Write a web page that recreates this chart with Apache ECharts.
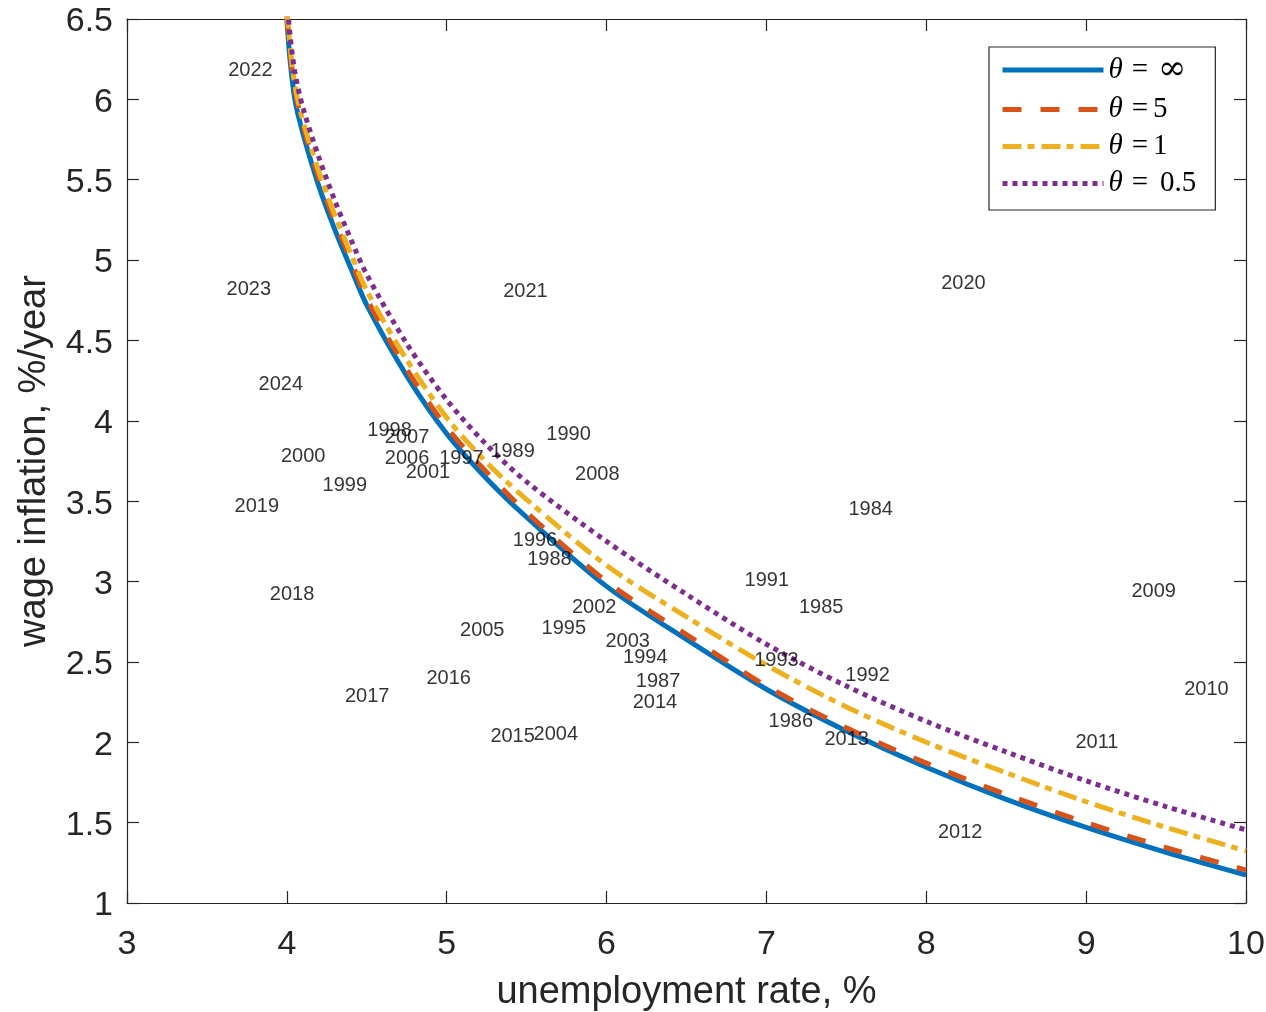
<!DOCTYPE html>
<html>
<head>
<meta charset="utf-8">
<script src="https://cdn.jsdelivr.net/npm/echarts@6/dist/echarts.min.js"></script>
<style>
  html, body { margin: 0; padding: 0; background: #fff; }
  #chart { width: 1266px; height: 1012px; }
</style>
</head>
<body>
<div id="chart"></div>
<script>
// curve grid (unemployment rate, %)
const curveU = [4.0, 4.02, 4.05, 4.1, 4.2, 4.3, 4.4, 4.5, 4.75, 5.0, 5.25, 5.5, 6.0, 6.5, 7.0, 7.5, 8.0, 8.5, 9.0, 9.5, 10.0];
// wage inflation for each theta
const thetaInf = [6.5, 6.245, 6.0, 5.79, 5.46, 5.19, 4.95, 4.72, 4.28, 3.92, 3.64, 3.40, 2.97, 2.64, 2.33, 2.07, 1.845, 1.645, 1.47, 1.315, 1.174];
const theta5   = [6.53, 6.30, 6.06, 5.84, 5.51, 5.24, 5.00, 4.76, 4.32, 3.96, 3.68, 3.43, 3.00, 2.67, 2.35, 2.09, 1.87, 1.675, 1.50, 1.345, 1.205];
const theta1   = [6.56, 6.33, 6.09, 5.87, 5.55, 5.28, 5.04, 4.81, 4.38, 4.02, 3.74, 3.51, 3.10, 2.78, 2.48, 2.22, 2.00, 1.81, 1.63, 1.47, 1.324];
const theta05  = [6.62, 6.40, 6.17, 5.95, 5.64, 5.37, 5.13, 4.91, 4.48, 4.13, 3.85, 3.62, 3.25, 2.92, 2.61, 2.35, 2.13, 1.94, 1.76, 1.60, 1.455];
const seriesNames = ['θ = ∞', 'θ =5', 'θ =1', 'θ = 0.5'];

// yearly observations
const years = ['2022', '2023', '2024', '2000', '1999', '2019', '2018', '2017', '2016', '2005',
  '2015', '2004', '1998', '2007', '2006', '2001', '1997', '1989', '1990', '2008',
  '2021', '2020', '1984', '1996', '1988', '2002', '1995', '2003', '1994', '1987',
  '2014', '1991', '1985', '1993', '1992', '1986', '2013', '2009', '2010', '2011', '2012'];
const yearU = [3.63, 3.62, 3.82, 3.96, 4.22, 3.67, 3.89, 4.36, 4.87, 5.08,
  5.27, 5.54, 4.50, 4.61, 4.61, 4.74, 4.95, 5.27, 5.62, 5.80,
  5.35, 8.09, 7.51, 5.41, 5.50, 5.78, 5.59, 5.99, 6.10, 6.18,
  6.16, 6.86, 7.20, 6.92, 7.49, 7.01, 7.36, 9.28, 9.61, 8.93, 8.07];
const yearW = [6.19, 4.83, 4.24, 3.79, 3.61, 3.48, 2.93, 2.30, 2.41, 2.71,
  2.05, 2.06, 3.95, 3.91, 3.78, 3.69, 3.78, 3.82, 3.93, 3.68,
  4.82, 4.87, 3.46, 3.27, 3.15, 2.85, 2.72, 2.64, 2.54, 2.39,
  2.26, 3.02, 2.85, 2.52, 2.43, 2.14, 2.03, 2.95, 2.34, 2.01, 1.45];

const sans = "'Liberation Sans', Arial, Helvetica, sans-serif";
const serif = "'Liberation Serif', 'DejaVu Serif', serif";
const axisColor = '#262626';

function pairs(xs, ys) {
  return xs.map((x, i) => [x, ys[i]]);
}

const chart = echarts.init(document.getElementById('chart'), null, { renderer: 'canvas' });

const mirrorAxis = {
  type: 'value',
  axisLine: { show: true, onZero: false, lineStyle: { color: axisColor, width: 1.2 } },
  axisTick: { show: true, inside: true, length: 12, lineStyle: { color: axisColor, width: 1.2 } },
  axisLabel: { show: false },
  splitLine: { show: false }
};

const option = {
  animation: false,
  backgroundColor: '#fff',
  grid: { left: 127, top: 19, right: 20, bottom: 109, containLabel: false, outerBoundsMode: 'none' },
  xAxis: [
    {
      type: 'value', min: 3, max: 10, interval: 1, position: 'bottom',
      name: 'unemployment rate, %', nameLocation: 'middle', nameGap: 71,
      nameTextStyle: { fontFamily: sans, fontSize: 38, color: axisColor },
      axisLine: { show: true, onZero: false, lineStyle: { color: axisColor, width: 1.2 } },
      axisTick: { show: true, inside: true, length: 12, lineStyle: { color: axisColor, width: 1.2 } },
      axisLabel: { fontFamily: sans, fontSize: 34, color: axisColor, margin: 25 },
      splitLine: { show: false }
    },
    Object.assign({}, mirrorAxis, { min: 3, max: 10, interval: 1, position: 'top' })
  ],
  yAxis: [
    {
      type: 'value', min: 1, max: 6.5, interval: 0.5, position: 'left',
      name: 'wage inflation, %/year', nameLocation: 'middle', nameGap: 73,
      nameTextStyle: { fontFamily: sans, fontSize: 38, color: axisColor },
      axisLine: { show: true, onZero: false, lineStyle: { color: axisColor, width: 1.2 } },
      axisTick: { show: true, inside: true, length: 12, lineStyle: { color: axisColor, width: 1.2 } },
      axisLabel: {
        margin: 14,
        formatter: v => '{a|' + v + '}',
        rich: { a: { fontFamily: sans, fontSize: 34, color: axisColor, padding: [6, 0, 0, 0] } }
      },
      splitLine: { show: false }
    },
    Object.assign({}, mirrorAxis, { min: 1, max: 6.5, interval: 0.5, position: 'right' })
  ],
  legend: {
    left: 989, top: 47, orient: 'vertical',
    padding: [6, 19, 12, 11],
    itemWidth: 101, itemHeight: 14, itemGap: 8,
    backgroundColor: '#fff', borderColor: '#262626', borderWidth: 1.2, borderRadius: 0,
    itemStyle: { opacity: 0 },
    lineStyle: { width: 5 },
    data: seriesNames,
    formatter: function (name) {
      const parts = name.slice(1).split('=');
      const right = parts[1].trim();
      if (right === '∞') return '{t|θ}{e|=}{inf|∞}';
      const key = parts[1].charAt(0) === ' ' ? 'n' : 'm';
      return '{t|θ}{e|=}{' + key + '|' + right + '}';
    },
    textStyle: {
      color: '#000',
      rich: {
        t: { fontFamily: serif, fontStyle: 'italic', fontSize: 29, color: '#000' },
        e: { fontFamily: serif, fontSize: 29, color: '#000', padding: [0, 2, 0, 9] },
        n: { fontFamily: serif, fontSize: 29, color: '#000', padding: [0, 0, 0, 10] },
        m: { fontFamily: serif, fontSize: 29, color: '#000', padding: [0, 0, 0, 3] },
        inf: { fontFamily: "'DejaVu Serif', serif", fontSize: 34, color: '#000', padding: [0, 0, 0, 8] }
      }
    }
  },
  series: [
    {
      name: seriesNames[0], type: 'line', data: pairs(curveU, thetaInf),
      smooth: 0.3, symbol: 'none', showSymbol: false,
      lineStyle: { color: '#0072BD', width: 5, type: 'solid' },
      itemStyle: { color: '#0072BD' }
    },
    {
      name: seriesNames[1], type: 'line', data: pairs(curveU, theta5),
      smooth: 0.3, symbol: 'none', showSymbol: false,
      lineStyle: { color: '#D95319', width: 5, type: [19, 19] },
      itemStyle: { color: '#D95319' }
    },
    {
      name: seriesNames[2], type: 'line', data: pairs(curveU, theta1),
      smooth: 0.3, symbol: 'none', showSymbol: false,
      lineStyle: { color: '#EDB120', width: 5, type: [19, 6, 7, 7] },
      itemStyle: { color: '#EDB120' }
    },
    {
      name: seriesNames[3], type: 'line', data: pairs(curveU, theta05),
      smooth: 0.3, symbol: 'none', showSymbol: false,
      lineStyle: { color: '#7E2F8E', width: 5, type: [5, 5] },
      itemStyle: { color: '#7E2F8E' }
    },
    {
      name: 'years', type: 'scatter', silent: true,
      symbolSize: 1,
      itemStyle: { color: 'rgba(0,0,0,0)' },
      data: years.map((y, i) => [yearU[i], yearW[i], y]),
      label: {
        show: true, position: 'right', distance: 0, offset: [0, 2],
        formatter: p => p.value[2],
        fontFamily: sans, fontSize: 20, color: '#000'
      },
      z: 10
    }
  ]
};

chart.setOption(option);
</script>
</body>
</html>
